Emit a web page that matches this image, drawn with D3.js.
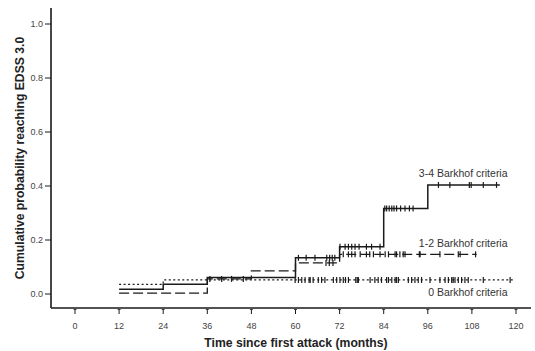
<!DOCTYPE html>
<html>
<head>
<meta charset="utf-8">
<script src="https://cdn.jsdelivr.net/npm/d3@7"></script>
<style>
  body { margin: 0; background: #fff; }
  svg { display: block; font-family: "Liberation Sans", Arial, sans-serif; }
  .tick-label { font-size: 9px; fill: #444; }
  .axis-title { font-size: 12.2px; font-weight: bold; fill: #222; }
  .curve-label { font-size: 10.5px; fill: #333; }
</style>
</head>
<body>
<div id="chart"></div>
<script>
// Data
const X_TICKS = [0, 12, 24, 36, 48, 60, 72, 84, 96, 108, 120];
const Y_TICKS = [0.0, 0.2, 0.4, 0.6, 0.8, 1.0];

const SERIES_NAMES = ['3-4 Barkhof criteria', '1-2 Barkhof criteria', '0 Barkhof criteria'];

// step points [month, cumulative probability]
const STEPS_34 = [[12, 0.018], [24, 0.036], [36, 0.061], [60, 0.134], [72, 0.175], [84, 0.317], [96, 0.404]];
const STEPS_12 = [[12, 0.003], [36, 0.056], [48, 0.086], [60, 0.115], [72, 0.147]];
const STEPS_0 = [[12, 0.036], [24, 0.052]];

// last follow-up month of each curve
const END_34 = 115.6;
const END_12 = 109.3;
const END_0 = 119.7;

// censored observations (months)
const CENSOR_34 = [60.8, 62.9, 65.3, 68.5, 69.3, 70, 70.7, 72.1, 73.5, 74.4, 75.3, 76.2, 77.3, 79.3, 80.7, 83.0,
    84.3, 84.8, 85.5, 86.2, 86.8, 87.5, 88.6, 89.8, 91, 92, 98.9, 102, 107.3, 107.8, 111.1, 114.7];
const CENSOR_12 = [36.7, 39.9, 42.6, 45.8, 68.3, 69.2, 70.2, 73, 74.4, 75.3, 76.2, 77.6, 79.3, 80.2, 81.2, 83,
    84.4, 85.3, 87.1, 87.5, 88.4, 89.3, 89.8, 93.7, 93.9, 99.3, 104.3, 104.8, 109];
const CENSOR_0 = [59.9, 60.8, 61.7, 62.6, 63.7, 64.0, 64.8, 66.2, 67.1, 68, 70.3, 71.2, 72.1, 73, 73.6, 74.4, 76.4, 76.8,
    77.1, 80.3, 81.6, 82.5, 83.4, 84.8, 85.3, 86.2, 87.1, 87.5, 88, 90.7, 91.6, 92.5, 93.4, 94.3, 96.6, 99.3,
    100.7, 101.6, 102.5, 102.9, 103.4, 104.3, 105.2, 106.1, 107, 111.1, 118.4];

(function () {
    'use strict';

    const W = 535, H = 351;
    const svg = d3.select('#chart').append('svg')
        .attr('width', W)
        .attr('height', H);

    const x = d3.scaleLinear().domain([0, 120]).range([75, 516]);
    const y = d3.scaleLinear().domain([0, 1]).range([294, 24]);

    const axisX = 51, axisY = 308;
    const ink = '#1a1a1a';

    // axes frame
    svg.append('line')
        .attr('x1', axisX).attr('x2', axisX)
        .attr('y1', 8).attr('y2', axisY)
        .attr('stroke', ink).attr('stroke-width', 1.6);
    svg.append('line')
        .attr('x1', axisX).attr('x2', 531)
        .attr('y1', axisY).attr('y2', axisY)
        .attr('stroke', ink).attr('stroke-width', 1.6);

    // y ticks
    const gy = svg.append('g');
    Y_TICKS.forEach(function (t) {
        gy.append('line')
            .attr('x1', axisX - 6).attr('x2', axisX)
            .attr('y1', y(t)).attr('y2', y(t))
            .attr('stroke', ink).attr('stroke-width', 1);
        gy.append('text')
            .attr('class', 'tick-label')
            .attr('x', axisX - 8)
            .attr('y', y(t) + 3)
            .attr('text-anchor', 'end')
            .text(t.toFixed(1));
    });

    // x ticks
    const gx = svg.append('g');
    X_TICKS.forEach(function (t) {
        gx.append('line')
            .attr('x1', x(t)).attr('x2', x(t))
            .attr('y1', axisY + 1.5).attr('y2', axisY + 6)
            .attr('stroke', ink).attr('stroke-width', 1);
        gx.append('line')
            .attr('x1', x(t) - 1.5).attr('x2', x(t) + 1.5)
            .attr('y1', axisY + 1.5).attr('y2', axisY + 1.5)
            .attr('stroke', ink).attr('stroke-width', 0.8);
        gx.append('text')
            .attr('class', 'tick-label')
            .attr('x', x(t))
            .attr('y', 329)
            .attr('text-anchor', 'middle')
            .text(t);
    });

    // axis titles
    svg.append('text')
        .attr('class', 'axis-title')
        .attr('x', 296)
        .attr('y', 347)
        .attr('text-anchor', 'middle')
        .text('Time since first attack (months)');
    svg.append('text')
        .attr('class', 'axis-title')
        .attr('transform', 'translate(24,158) rotate(-90)')
        .attr('text-anchor', 'middle')
        .text('Cumulative probability reaching EDSS 3.0');

    const line = d3.line()
        .x(function (d) { return x(d[0]); })
        .y(function (d) { return y(d[1]); })
        .curve(d3.curveStepAfter);

    function valueAt(steps, t) {
        let v = steps[0][1];
        steps.forEach(function (s) { if (s[0] <= t) { v = s[1]; } });
        return v;
    }

    const curves = [
        { steps: STEPS_0, end: END_0, censor: CENSOR_0, dash: '2,2.5', width: 1.2 },
        { steps: STEPS_12, end: END_12, censor: CENSOR_12, dash: '10,4', width: 1.3 },
        { steps: STEPS_34, end: END_34, censor: CENSOR_34, dash: null, width: 1.5 }
    ];

    curves.forEach(function (c) {
        const pts = c.steps.concat([[c.end, c.steps[c.steps.length - 1][1]]]);
        svg.append('path')
            .attr('d', line(pts))
            .attr('fill', 'none')
            .attr('stroke', ink)
            .attr('stroke-width', c.width)
            .attr('stroke-dasharray', c.dash);
        svg.append('g').selectAll('line')
            .data(c.censor)
            .enter()
            .append('line')
            .attr('x1', function (d) { return x(d); })
            .attr('x2', function (d) { return x(d); })
            .attr('y1', function (d) { return y(valueAt(c.steps, d)) - 3; })
            .attr('y2', function (d) { return y(valueAt(c.steps, d)) + 3; })
            .attr('stroke', ink)
            .attr('stroke-width', 1.2);
    });

    // curve labels
    const labels = [
        { text: SERIES_NAMES[0], y: 177 },
        { text: SERIES_NAMES[1], y: 247 },
        { text: SERIES_NAMES[2], y: 296 }
    ];
    labels.forEach(function (l) {
        svg.append('text')
            .attr('class', 'curve-label')
            .attr('x', x(117.7))
            .attr('y', l.y)
            .attr('text-anchor', 'end')
            .text(l.text);
    });
})();
</script>
</body>
</html>
